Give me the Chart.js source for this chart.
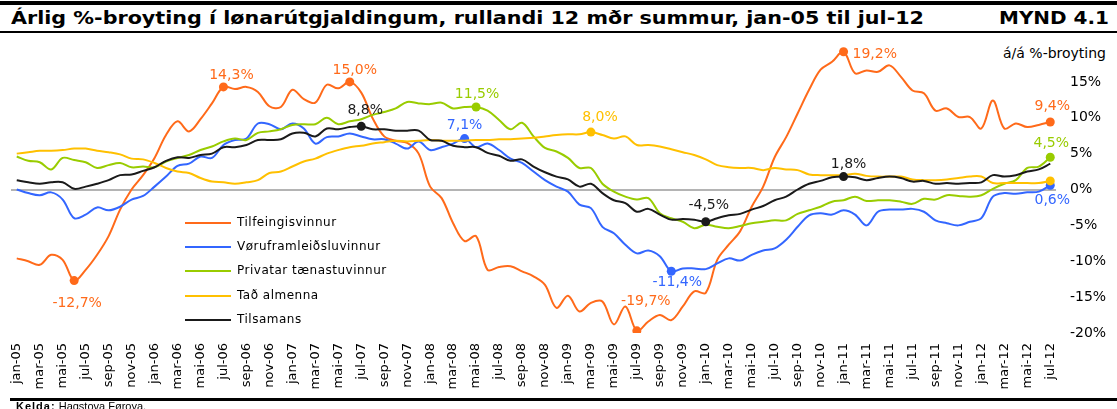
<!DOCTYPE html>
<html>
<head>
<meta charset="utf-8">
<script src="https://cdn.jsdelivr.net/npm/chart.js@4.4.1/dist/chart.umd.min.js"></script>
<style>
  html, body { margin: 0; padding: 0; background: #fff; }
  body { width: 1117px; height: 409px; position: relative; overflow: hidden; font-family: "DejaVu Sans", Verdana, sans-serif; color: #000; }
  .rule { position: absolute; left: 0; width: 1117px; background: #000; }
  #title, #figNo { position: absolute; top: 8px; font-weight: bold; font-size: 18px; font-family: "DejaVu Sans Condensed", "DejaVu Sans", sans-serif; white-space: nowrap; transform-origin: 0 0; line-height: 20px; }
  #unit { position: absolute; left: 1003px; top: 45px; font-size: 14px; white-space: nowrap; line-height: 16px; }
  #legend { position: absolute; left: 185px; top: 214px; }
  .lg { position: absolute; left: 0; height: 16px; white-space: nowrap; }
  .lg i { position: absolute; left: 0; top: 8px; width: 46px; height: 2px; }
  .lg span { position: absolute; left: 52px; top: 0; font-size: 12px; letter-spacing: 0.5px; line-height: 17px; }
  #source { position: absolute; left: 16px; top: 400px; font-size: 11px; line-height: 13px; white-space: nowrap; font-family: "Liberation Sans", Arial, sans-serif; }
  #source b { letter-spacing: 1px; }
  canvas { position: absolute; left: 0; top: 0; }
</style>
</head>
<body>
<div class="rule" style="top:1px;height:4px"></div>
<div id="title">Árlig %-broyting í lønarútgjaldingum, rullandi 12 mðr summur, jan-05 til jul-12</div>
<div id="figNo">MYND 4.1</div>
<div class="rule" style="top:31px;height:2px"></div>
<div id="unit">á/á %-broyting</div>
<canvas id="chart" width="1117" height="409"></canvas>
<div id="legend"></div>
<div class="rule" style="top:398px;height:3px;left:10px;width:1107px"></div>
<div id="source"><b>Kelda:</b> Hagstova Føroya.</div>

<script>
// months jan-05 .. jul-12
const monthNames = ["jan", "feb", "mar", "apr", "mai", "jun", "jul", "aug", "sep", "okt", "nov", "des"];
const years = ["05", "06", "07", "08", "09", "10", "11", "12"];
const months = [];
years.forEach(y => monthNames.forEach(m => months.push(m + "-" + y)));
months.length = 91;

const yTicks = [-20, -15, -10, -5, 0, 5, 10, 15, 20];

// annual % change, rolling 12 month sums
const tilfeingi = [
  -9.6, -10.0, -10.5, -9.1, -9.8, -12.7, -11.2, -9.1, -6.5, -2.8,
  0.0, 2.0, 4.4, 7.6, 9.5, 8.1, 9.8, 12.0, 14.3, 14.0,
  14.3, 13.6, 11.6, 11.5, 13.9, 12.6, 12.1, 14.6, 14.1, 15.0,
  13.5, 9.9, 7.4, 6.8, 6.5, 5.0, 0.4, -1.2, -4.7, -7.2,
  -6.5, -11.2, -10.8, -10.7, -11.4, -12.1, -13.3, -16.5, -14.8, -17.0,
  -15.8, -15.6, -18.8, -16.3, -19.7, -18.4, -17.5, -18.2, -16.3, -14.2,
  -14.4, -9.8, -7.7, -5.8, -2.4, 0.4, 4.5, 7.3, 10.6, 13.9,
  16.7, 17.8, 19.2, 16.2, 16.6, 16.4, 17.3, 15.7, 13.8, 13.4,
  11.0, 11.3, 10.1, 10.1, 8.5, 12.4, 8.5, 9.2, 8.7, 9.0,
  9.4
];
const voruframleidsla = [
  0.0, -0.5, -0.8, -0.4, -1.4, -4.0, -3.5, -2.5, -2.9, -2.4,
  -1.4, -0.9, 0.4, 1.8, 3.3, 3.6, 4.6, 4.4, 6.2, 6.9,
  7.1, 9.2, 9.1, 8.4, 9.2, 8.5, 6.4, 7.3, 7.4, 7.8,
  7.4, 7.0, 7.0, 6.4, 5.7, 6.7, 5.5, 5.9, 6.4, 7.1,
  5.9, 6.4, 5.5, 4.3, 3.7, 2.5, 1.3, 0.4, -0.3, -2.1,
  -2.6, -5.2, -6.1, -7.7, -8.9, -8.5, -9.3, -11.4, -11.0, -11.0,
  -11.1, -10.3, -9.6, -9.9, -9.1, -8.5, -8.2, -7.0, -5.2, -3.6,
  -3.3, -3.5, -2.9, -3.5, -5.0, -3.1, -2.8, -2.8, -2.7, -3.1,
  -4.3, -4.7, -5.0, -4.5, -4.0, -1.0, -0.5, -0.6, -0.4, -0.3,
  0.6
];
const privatar = [
  4.6, 4.0, 3.8, 2.8, 4.4, 4.1, 3.8, 3.0, 3.4, 3.7,
  3.1, 3.2, 3.1, 3.9, 4.4, 4.8, 5.5, 6.0, 6.7, 7.1,
  6.9, 7.9, 8.1, 8.4, 9.0, 9.1, 9.1, 10.0, 9.1, 9.5,
  9.8, 10.4, 10.8, 11.3, 12.2, 12.0, 11.9, 12.1, 11.3, 11.5,
  11.5, 11.0, 9.7, 8.4, 9.3, 7.4, 5.8, 5.3, 4.4, 3.0,
  3.0, 0.8, -0.3, -1.0, -1.4, -1.2, -3.3, -4.0, -4.5, -5.4,
  -4.9, -5.2, -5.4, -5.1, -4.7, -4.5, -4.3, -4.3, -3.4, -2.9,
  -2.4, -1.7, -1.5, -1.0, -1.6, -1.5, -1.5, -1.7, -2.0, -1.3,
  -1.4, -0.8, -0.9, -1.0, -0.8, 0.1, 0.8, 1.3, 3.0, 3.2,
  4.5
];
const almenna = [
  5.0, 5.2, 5.4, 5.4, 5.5, 5.7, 5.7, 5.4, 5.2, 4.9,
  4.3, 4.2, 3.7, 3.0, 2.5, 2.3, 1.6, 1.1, 1.0, 0.8,
  1.0, 1.3, 2.3, 2.5, 3.2, 3.9, 4.3, 5.0, 5.5, 5.9,
  6.1, 6.4, 6.6, 6.8, 6.7, 6.8, 6.9, 6.8, 6.8, 6.8,
  6.9, 6.9, 7.0, 7.0, 7.1, 7.2, 7.4, 7.6, 7.7, 7.7,
  8.0, 7.6, 7.1, 7.4, 6.2, 6.2, 6.0, 5.6, 5.2, 4.8,
  4.2, 3.4, 3.1, 3.0, 3.0, 2.7, 3.0, 2.8, 2.7, 2.1,
  2.0, 2.0, 2.0, 2.2, 1.9, 1.8, 1.8, 1.8, 1.4, 1.3,
  1.3, 1.4, 1.6, 1.8, 1.8, 0.9, 0.9, 0.9, 0.9, 0.9,
  1.2
];
const tilsamans = [
  1.3, 1.0, 0.8, 1.0, 1.0, 0.1, 0.4, 0.8, 1.3, 2.0,
  2.1, 2.6, 3.1, 4.0, 4.5, 4.4, 4.8, 5.0, 5.9, 5.9,
  6.2, 6.9, 6.9, 7.0, 7.8, 7.9, 7.4, 8.5, 8.4, 8.7,
  8.8, 8.4, 8.4, 8.2, 8.2, 8.2, 6.9, 6.8, 6.1, 5.9,
  5.9, 5.1, 4.7, 4.0, 4.2, 3.2, 2.4, 1.8, 1.4, 0.4,
  0.8, -0.5, -1.5, -1.9, -3.1, -2.7, -3.5, -4.2, -4.1, -4.2,
  -4.5, -4.0, -3.6, -3.4, -2.8, -2.3, -1.5, -1.0, 0.0, 0.8,
  1.2, 1.7, 1.8, 1.7, 1.3, 1.6, 1.8, 1.6, 1.1, 1.2,
  0.8, 0.9, 0.8, 0.9, 1.0, 2.0, 1.8, 2.0, 2.5, 2.8,
  3.6
];

const seriesNames = ["Tilfeingisvinnur", "Vøruframleiðsluvinnur", "Privatar tænastuvinnur", "Tað almenna", "Tilsamans"];
const seriesValues = [tilfeingi, voruframleidsla, privatar, almenna, tilsamans];
const seriesColors = ["#ff6a1a", "#3366ff", "#99cc00", "#ffc000", "#1a1a1a"];

// points that carry a dot in the figure
const markedPoints = [
  [5, 18, 29, 54, 72, 90],
  [39, 57, 90],
  [40, 90],
  [50, 90],
  [30, 60, 72]
];

// value callouts: series, point, text offset
const callouts = [
  { s: 0, i: 5, dx: 3, dy: 23 },
  { s: 0, i: 18, dx: 8, dy: -12 },
  { s: 0, i: 29, dx: 5, dy: -12 },
  { s: 0, i: 54, dx: 9, dy: -29 },
  { s: 0, i: 72, dx: 9, dy: 3, align: "left" },
  { s: 0, i: 90, dx: 2, dy: -16 },
  { s: 1, i: 39, dx: 0, dy: -13 },
  { s: 1, i: 57, dx: 6, dy: 11 },
  { s: 1, i: 90, dx: 2, dy: 15 },
  { s: 2, i: 40, dx: 1, dy: -13 },
  { s: 2, i: 90, dx: 1, dy: -14 },
  { s: 3, i: 50, dx: 9, dy: -15 },
  { s: 4, i: 30, dx: 4, dy: -16 },
  { s: 4, i: 60, dx: 3, dy: -16 },
  { s: 4, i: 72, dx: 5, dy: -12 }
];

function fmtPct(v) {
  return v.toFixed(1).replace(".", ",") + "%";
}

const calloutPlugin = {
  id: "callouts",
  afterDatasetsDraw(chart) {
    const ctx = chart.ctx;
    ctx.save();
    ctx.font = '14px "DejaVu Sans"';
    ctx.textBaseline = "middle";
    callouts.forEach(c => {
      const pt = chart.getDatasetMeta(c.s).data[c.i];
      ctx.fillStyle = seriesColors[c.s];
      ctx.textAlign = c.align || "center";
      ctx.fillText(fmtPct(seriesValues[c.s][c.i]), pt.x + c.dx, pt.y + c.dy);
    });
    ctx.restore();
  }
};

const datasets = seriesNames.map((name, k) => ({
  label: name,
  data: seriesValues[k],
  borderColor: seriesColors[k],
  backgroundColor: seriesColors[k],
  borderWidth: 2,
  tension: 0.35,
  fill: false,
  order: seriesNames.length - 1 - k,
  pointRadius: months.map((_, i) => markedPoints[k].includes(i) ? 4.5 : 0),
  pointBorderWidth: 0,
  pointBackgroundColor: seriesColors[k]
}));

new Chart(document.getElementById("chart"), {
  type: "line",
  data: { labels: months, datasets: datasets },
  options: {
    responsive: false,
    animation: false,
    devicePixelRatio: 1,
    layout: { padding: { left: 11, top: 46, right: 0, bottom: 0 } },
    plugins: { legend: { display: false }, tooltip: { enabled: false } },
    scales: {
      x: {
        offset: true,
        grid: { display: false, drawTicks: false },
        border: { display: false },
        ticks: {
          autoSkip: false,
          minRotation: 90,
          maxRotation: 90,
          padding: 10,
          color: "#000",
          font: { family: "DejaVu Sans", size: 13 },
          callback(v, i) { return i % 2 === 0 ? this.getLabelForValue(v) : ""; }
        },
        afterFit(axis) { axis.height = 76; }
      },
      y: {
        position: "right",
        min: yTicks[0],
        max: yTicks[yTicks.length - 1],
        afterBuildTicks(axis) { axis.ticks = yTicks.map(v => ({ value: v })); },
        grid: {
          drawTicks: false,
          lineWidth: 2,
          color: c => (c.tick && c.tick.value === 0) ? "#b4b4b4" : "rgba(0,0,0,0)"
        },
        border: { display: false },
        ticks: {
          padding: 14,
          color: "#000",
          font: { family: "DejaVu Sans", size: 14 },
          callback: v => v === yTicks[yTicks.length - 1] ? "" : v + "%"
        },
        afterFit(axis) { axis.width = 61; }
      }
    }
  },
  plugins: [calloutPlugin]
});

// legend inside the plot
const legend = document.getElementById("legend");
seriesNames.forEach((name, k) => {
  const row = document.createElement("div");
  row.className = "lg";
  row.style.top = (k * 24.2) + "px";
  row.innerHTML = '<i style="background:' + seriesColors[k] + '"></i><span>' + name + "</span>";
  legend.appendChild(row);
});

// squeeze title into its measured span
function fitWidth(id, left, width) {
  const el = document.getElementById(id);
  el.style.left = left + "px";
  const w = el.getBoundingClientRect().width;
  el.style.transform = "scaleX(" + (width / w) + ")";
}
fitWidth("title", 11, 913);
fitWidth("figNo", 999, 110);
</script>
</body>
</html>
